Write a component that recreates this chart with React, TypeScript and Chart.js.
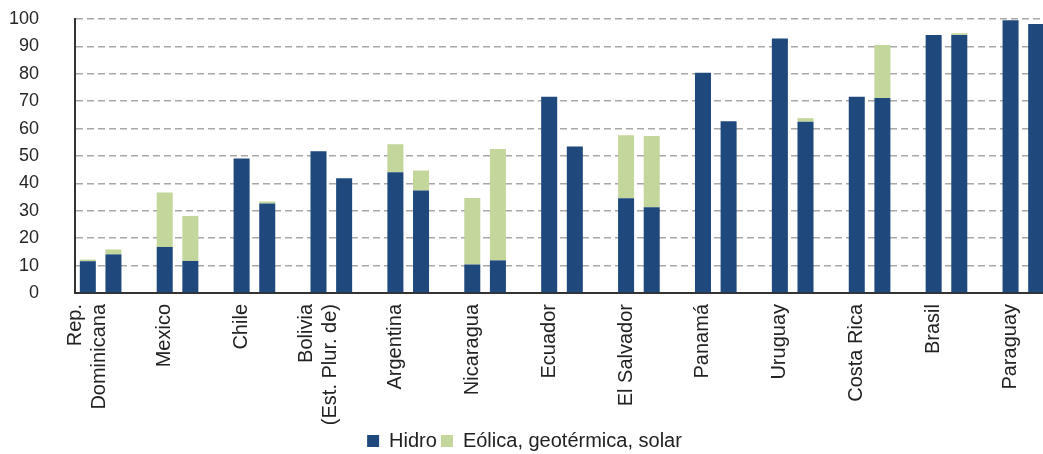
import React, { useEffect, useRef } from "react";
import { Chart, registerables } from "chart.js";

Chart.register(...registerables);

// Country labels (one array of lines per country)
const countries: string[][] = [
  ["Rep.", "Dominicana"],
  ["Mexico"],
  ["Chile"],
  ["Bolivia", "(Est. Plur. de)"],
  ["Argentina"],
  ["Nicaragua"],
  ["Ecuador"],
  ["El Salvador"],
  ["Panamá"],
  ["Uruguay"],
  ["Costa Rica"],
  ["Brasil"],
  ["Paraguay"],
];

// Share of generation (%), first bar of each country
const hidroFirst = [11.6, 16.8, 49.1, 51.7, 44.1, 10.4, 71.6, 34.6, 80.4, 92.9, 71.6, 94.2, 99.5];
const otrasFirst = [0.6, 19.9, 0, 0, 10.2, 24.3, 0, 23.0, 0, 0, 0, 0, 0];

// Share of generation (%), second bar of each country
const hidroSecond = [14.1, 11.7, 32.7, 41.9, 37.4, 11.9, 53.5, 31.3, 62.7, 62.5, 71.2, 94.2, 98.2];
const otrasSecond = [1.8, 16.4, 0.7, 0, 7.3, 40.7, 0, 26.0, 0, 1.3, 19.3, 0.6, 0];

const yTicks = [0, 10, 20, 30, 40, 50, 60, 70, 80, 90, 100];

const seriesNames = ["Hidro", "Eólica, geotérmica, solar"];

const FONT = "'Liberation Sans', Arial, Helvetica, sans-serif";
const LABEL_SIZE = 20;

// Each country takes three slots: two bars and an empty spacer (none after the last)
const slotCount = countries.length * 3 - 1;

function spread(first: number[], second: number[]): (number | null)[] {
  const out: (number | null)[] = [];
  countries.forEach((_, i) => {
    out.push(first[i], second[i]);
    if (i < countries.length - 1) out.push(null);
  });
  return out;
}

const slotLabels: string[] = [];
countries.forEach((c, i) => {
  const name = c.join(" ");
  slotLabels.push(name, name);
  if (i < countries.length - 1) slotLabels.push("");
});

export default function App() {
  const canvasRef = useRef<HTMLCanvasElement | null>(null);

  useEffect(() => {
    const canvas = canvasRef.current;
    if (!canvas) return;

    const chart = new Chart(canvas, {
      type: "bar",
      data: {
        labels: slotLabels,
        datasets: [
          {
            label: seriesNames[0],
            data: spread(hidroFirst, hidroSecond),
            backgroundColor: "#1F497D",
            stack: "s",
          },
          {
            label: seriesNames[1],
            data: spread(otrasFirst, otrasSecond),
            backgroundColor: "#C3D69B",
            stack: "s",
          },
        ],
      },
      options: {
        responsive: false,
        animation: false,
        layout: { padding: { top: 19, right: 1, left: 0, bottom: 0 } },
        datasets: {
          bar: { barPercentage: 0.625, categoryPercentage: 1 },
        },
        plugins: {
          tooltip: { enabled: false },
          legend: {
            position: "bottom",
            labels: {
              boxWidth: 12,
              boxHeight: 12,
              padding: 4,
              color: "#222",
              font: { family: FONT, size: LABEL_SIZE },
            },
          },
        },
        scales: {
          x: {
            type: "category",
            display: false,
            stacked: true,
          },
          // Country names sit under the first bar of each pair;
          // two-line names are centred on that bar.
          x2: {
            type: "linear",
            position: "bottom",
            offset: false,
            min: -0.5,
            max: slotCount - 0.5,
            bounds: "data",
            grid: { display: false, drawTicks: false, offset: false },
            border: { display: true, color: "#333", width: 2 },
            afterBuildTicks: (scale: any) => {
              const slotPx = scale.width / slotCount || 25.6;
              const lineShift = (LABEL_SIZE * 1.2) / 2 / slotPx;
              scale.ticks = countries.map((c, i) => ({
                value: 3 * i - (c.length - 1) * lineShift,
              }));
            },
            afterFit: (scale: any) => {
              scale.height = 134;
            },
            ticks: {
              autoSkip: false,
              maxRotation: 90,
              minRotation: 90,
              padding: 11,
              color: "#222",
              font: { family: FONT, size: LABEL_SIZE },
              callback: (_v: any, index: number) => countries[index],
            },
          },
          y: {
            stacked: true,
            min: 0,
            max: 100,
            afterBuildTicks: (scale: any) => {
              scale.ticks = yTicks.map((v) => ({ value: v }));
            },
            afterFit: (scale: any) => {
              scale.width = 75;
            },
            grid: {
              color: "#a8a8a8",
              lineWidth: 1.5,
              drawTicks: true,
              tickLength: 33,
              tickColor: "rgba(0,0,0,0)",
            },
            border: { display: true, color: "#333", width: 2, dash: [7, 4] },
            ticks: {
              padding: 3,
              color: "#262626",
              font: { family: FONT, size: 18 },
            },
          },
        },
      },
    });

    return () => chart.destroy();
  }, []);

  return (
    <div
      style={{
        position: "fixed",
        left: 0,
        top: 0,
        width: 1043,
        height: 454,
        overflow: "hidden",
        background: "#fff",
      }}
    >
      <canvas ref={canvasRef} width={1050} height={461} />
    </div>
  );
}
